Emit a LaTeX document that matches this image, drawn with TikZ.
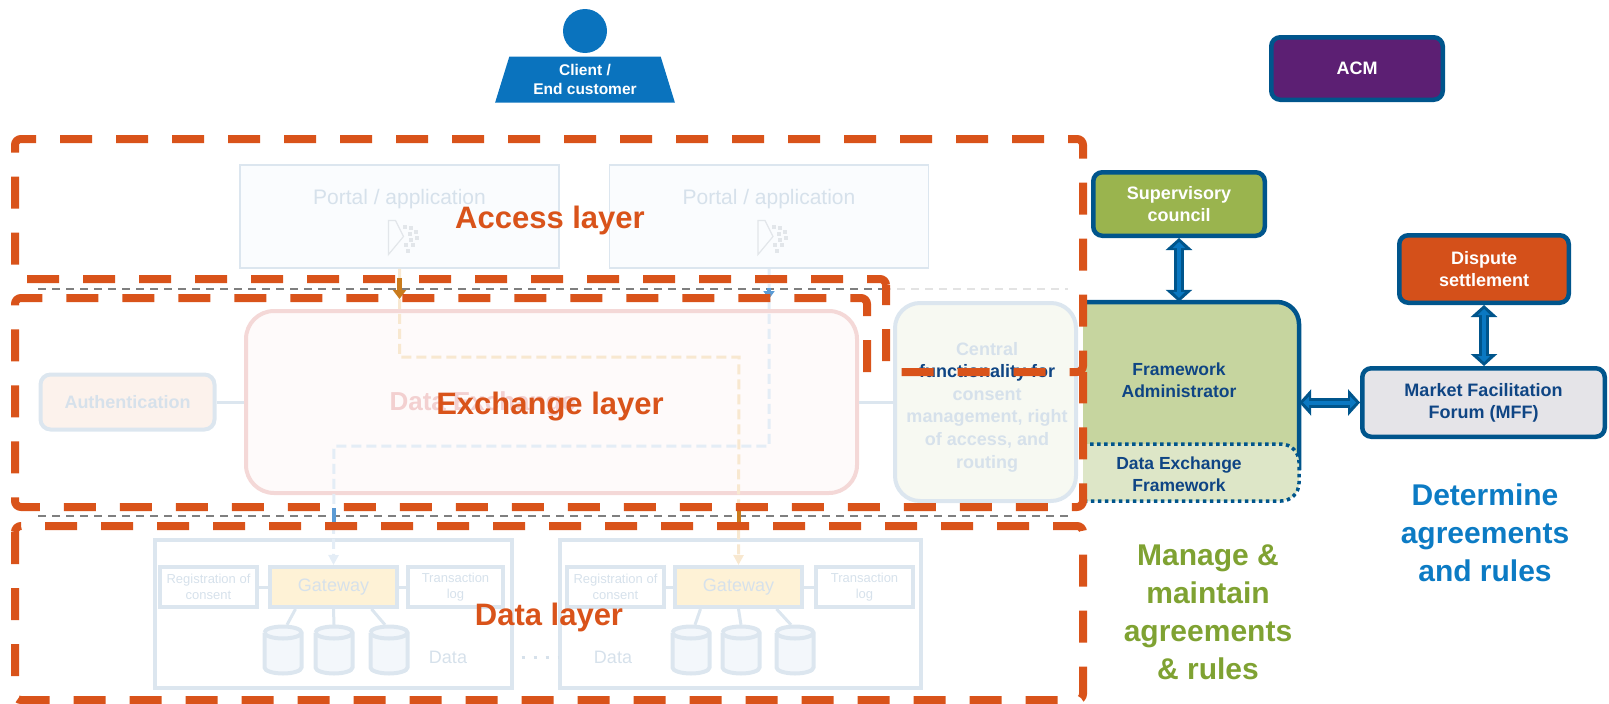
\documentclass[tikz,border=0pt]{standalone}
\usepackage{fontspec}
\setmainfont{Liberation Sans}
\usetikzlibrary{positioning,arrows.meta,calc,shapes.geometric}

\definecolor{layerorange}{HTML}{D9531A}
\definecolor{govblue}{HTML}{00558C}
\definecolor{arrowblue}{HTML}{0A78C2}
\definecolor{navytext}{HTML}{0F4584}
\definecolor{acmpurple}{HTML}{5C1F73}
\definecolor{supgreen}{HTML}{9AB44E}
\definecolor{disporange}{HTML}{D4501A}
\definecolor{fagreen}{HTML}{C6D59F}
\definecolor{defgreen}{HTML}{DDE6C7}
\definecolor{mffgrey}{HTML}{E5E4E8}
\definecolor{managegreen}{HTML}{7FA232}
\definecolor{determineblue}{HTML}{0C7BC4}
\definecolor{clientblue}{HTML}{0A73BE}
\definecolor{fadeline}{HTML}{DCE6EF}
\definecolor{fadetext}{HTML}{D6E1EB}
\definecolor{fadepink}{HTML}{F4D8D7}
\definecolor{fadepinktext}{HTML}{F3D0D0}
\definecolor{dxfill}{HTML}{FEFAFA}
\definecolor{authfill}{HTML}{FCF2EC}
\definecolor{centralfill}{HTML}{F7F9F2}
\definecolor{portalfill}{HTML}{FAFCFE}
\definecolor{cylfill}{HTML}{F3F7FB}
\definecolor{gatefill}{HTML}{FEF2D6}
\definecolor{routeorange}{HTML}{C97B1C}
\definecolor{routeblue}{HTML}{5B9BD5}
\definecolor{fadeorange}{HTML}{F8E8D0}
\definecolor{fadeblue}{HTML}{E4EDF6}
\definecolor{divgrey}{HTML}{7F7F7F}
\definecolor{divlight}{HTML}{E3E3E3}
\definecolor{icongrey}{HTML}{E2E6EA}

\begin{document}
\begin{tikzpicture}[x=1pt, y=-1pt,
	layer/.style={draw=layerorange, line width=8pt, dash pattern=on 32pt off 24pt, rounded corners=6pt},
	layerlabel/.style={text=layerorange, font=\bfseries\fontsize{31}{36}\selectfont},
	divider/.style={draw=divgrey, line width=2.5pt, dash pattern=on 8pt off 6pt},
	govbox/.style={draw=govblue, line width=4.5pt, rounded corners=9pt, align=center,
		text=white, inner sep=0pt, font=\bfseries\fontsize{18}{22}\selectfont},
	govtext/.style={align=center, text=navytext, font=\bfseries\fontsize{17.5}{21.5}\selectfont},
	dblout/.style={draw=govblue, line width=10pt,
		{Triangle[length=12pt,width=26pt]}-{Triangle[length=12pt,width=26pt]}},
	dblin/.style={draw=arrowblue, line width=4pt, shorten <=4pt, shorten >=4pt,
		{Triangle[length=6pt,width=12pt]}-{Triangle[length=6pt,width=12pt]}},
	bigtext/.style={align=center, font=\bfseries\fontsize{30}{38}\selectfont},
	portal/.style={draw=fadeline, line width=1.5pt, fill=portalfill,
		minimum width=319pt, minimum height=103pt, inner sep=0pt},
	fadebox/.style={draw=fadeline, line width=4pt, inner sep=0pt},
	fadetxt/.style={text=fadetext, align=center},
	fadeconn/.style={draw=fadeline, line width=3pt},
	cylspot/.style={minimum width=41pt, minimum height=50pt, inner sep=0pt},
	route/.style={line width=3pt, dash pattern=on 10pt off 5pt, -{Triangle[length=10pt,width=10pt]}}
]
\useasboundingbox (0,0) rectangle (1609,704);

% faded access layer
\node[portal] (pt1) at (399.5,216.5) {};
\node[portal] (pt2) at (769,216.5) {};
\node[fadetxt, font=\fontsize{21}{24}\selectfont] (pt1txt) at (399.5,199) {Portal / application};
\node[fadetxt, font=\fontsize{21}{24}\selectfont] (pt2txt) at (769,199) {Portal / application};
\foreach \p in {pt1,pt2}{
	\begin{scope}[shift={(\p.center)}]
		\draw[icongrey, line width=1.2pt] (-11,4) -- (-4,4) -- (4,20) -- (-11,38) -- cycle;
		\foreach \dx/\dy in {3/8,9/9,14/13,8/15,15/19,9/21,4/26,11/26,6/32}
			\fill[icongrey] (\dx,\dy) rectangle ++(4,4);
	\end{scope}
}

% faded exchange layer
\node[fadebox, fill=authfill, rounded corners=10pt, minimum width=174pt, minimum height=55pt] (auth) at (127.5,402) {};
\node[fadetxt, font=\bfseries\fontsize{18}{22}\selectfont] (authtxt) at (auth) {Authentication};
\node[fadebox, draw=fadepink, fill=dxfill, rounded corners=28pt, minimum width=611pt, minimum height=182pt] (dx) at (551.5,402) {};
\node[text=fadepinktext, font=\bfseries\fontsize{26}{30}\selectfont, anchor=west] (dxtxt) at (386,404) {Data Exchange};
\node[fadebox, fill=centralfill, rounded corners=25pt, minimum width=181pt, minimum height=198pt] (central) at (985.5,402) {};
\node[fadetxt, font=\bfseries\fontsize{18}{22.6}\selectfont] (centraltxt) at (987,407)
	{Central\\\textcolor{navytext}{functionality for}\\consent\\management, right\\of access, and\\routing};
\draw[fadeconn] (auth) -- (dx);
\draw[fadeconn] (dx) -- (central);

% faded data layer
\node[fadebox, minimum width=357pt, minimum height=148pt] (dc1) at (333,614) {};
\node[fadebox, minimum width=361pt, minimum height=148pt] (dc2) at (740.5,614) {};
\node[fadebox, minimum width=97pt, minimum height=40pt] (reg1) at (208.5,587) {};
\node[fadebox, fill=gatefill, minimum width=127pt, minimum height=40pt] (gw1) at (333.5,587) {};
\node[fadebox, minimum width=95pt, minimum height=40pt] (tl1) at (455.5,587) {};
\node[fadebox, minimum width=97pt, minimum height=40pt] (reg2) at (615.5,587) {};
\node[fadebox, fill=gatefill, minimum width=127pt, minimum height=40pt] (gw2) at (738.5,587) {};
\node[fadebox, minimum width=97pt, minimum height=40pt] (tl2) at (864.5,587) {};
\foreach \b in {reg1,reg2}
	\node[fadetxt, font=\fontsize{13}{16}\selectfont] at (\b) {Registration of\\consent};
\foreach \b in {tl1,tl2}
	\node[fadetxt, font=\fontsize{13}{16}\selectfont] at (\b) {Transaction\\log};
\foreach \b in {gw1,gw2}
	\node[fadetxt, font=\fontsize{18}{22}\selectfont] at (\b) {Gateway};
\draw[fadeconn] (reg1) -- (gw1);
\draw[fadeconn] (gw1) -- (tl1);
\draw[fadeconn] (reg2) -- (gw2);
\draw[fadeconn] (gw2) -- (tl2);
\node[cylspot] (cyl1a) at (283,650) {};
\node[cylspot] (cyl1b) at (334,650) {};
\node[cylspot] (cyl1c) at (389,650) {};
\node[cylspot] (cyl2a) at (691,650) {};
\node[cylspot] (cyl2b) at (741,650) {};
\node[cylspot] (cyl2c) at (795,650) {};
\foreach \c in {cyl1a,cyl1b,cyl1c,cyl2a,cyl2b,cyl2c}{
	\begin{scope}[shift={(\c.center)}]
		\filldraw[fill=cylfill, draw=fadeline, line width=4pt]
			(-18.5,-17.5) -- (-18.5,17.5) arc(180:0:18.5 and 6) -- (18.5,-17.5) arc(0:-180:18.5 and 6);
		\draw[fadeline, line width=4pt] (-18.5,-17.5) arc(180:0:18.5 and 6);
	\end{scope}
}
\draw[fadeconn] ($(gw1.south)+(-38,0)$) -- ($(cyl1a.north)+(4,0)$);
\draw[fadeconn] (gw1.south) -- (cyl1b.north);
\draw[fadeconn] ($(gw1.south)+(38,0)$) -- ($(cyl1c.north)+(-4,0)$);
\draw[fadeconn] ($(gw2.south)+(-38,0)$) -- ($(cyl2a.north)+(4,0)$);
\draw[fadeconn] (gw2.south) -- (cyl2b.north);
\draw[fadeconn] ($(gw2.south)+(38,0)$) -- ($(cyl2c.north)+(-4,0)$);
\node[fadetxt, font=\fontsize{18}{22}\selectfont] (data1) at (448,657) {Data};
\node[fadetxt, font=\fontsize{18}{22}\selectfont] (data2) at (613,657) {Data};
\draw[draw=fadetext, line width=3pt, dash pattern=on 3pt off 9pt] ([xshift=8pt]dc1.east |- data1) -- (dc2.west |- data1);

% routes
\coordinate (obend) at (739,357);
\coordinate (bbend) at (334,446);
\draw[route, draw=fadeorange] (pt1.south) |- (obend) -- (gw2.north);
\draw[route, draw=fadeblue] (pt2.south) |- (bbend) -- (gw1.north);

% dividers
\draw[divider] (38,289) -- (883,289);
\draw[divider, draw=divlight] (883,289) -- (1068,289);
\draw[divider] (38,516) -- (1068,516);

\draw[routeorange, line width=5pt, -{Triangle[length=9pt,width=13pt]}] (399.5,278) -- (399.5,299);
\draw[routeblue, line width=4pt, -{Triangle[length=8pt,width=11pt]}] (769,288) -- (769,299);
\draw[routeblue, line width=4pt] (334,508) -- (334,525);
\draw[routeorange, line width=4pt] (739,510) -- (739,523);

% framework administrator
\node[minimum width=216pt, minimum height=199pt, inner sep=0pt] (fa) at (1191,401.5) {};
\fill[fagreen] (1083,302) -- (1277,302) arc(-90:0:22) -- (1299,479) arc(0:90:22) -- (1083,501) -- cycle;
\draw[govblue, line width=4.5pt] (1083,302) -- (1277,302) arc(-90:0:22) -- (1299,470);
\filldraw[fill=defgreen, draw=govblue, line width=3.5pt, dash pattern=on 3.5pt off 3.5pt]
	(1083,444) -- (1281,444) arc(-90:0:18) -- (1299,483) arc(0:90:18) -- (1083,501);
\node[govtext] (fatxt) at (1179,380) {Framework\\Administrator};
\node[govtext] (deftxt) at (1179,474) {Data Exchange\\Framework};

% layers
\draw[layer, dash phase=12pt] (886,279) -- (886,372) -- (1083,372) -- (1083,139) -- (15,139) -- (15,279) -- cycle;
\draw[layer] (867,372) -- (867,298) -- (15,298) -- (15,507) -- (1083,507) -- (1083,372);
\draw[layer] (15,526) rectangle (1083,700);
\node[layerlabel] (accesslbl) at (550,220) {Access layer};
\node[layerlabel] (exchangelbl) at (550,407) {Exchange layer};
\node[layerlabel] (datalbl) at (549,617) {Data layer};

% client
\node[circle, fill=clientblue, minimum size=44pt, inner sep=0pt] (head) at (585,31) {};
\node[trapezium, trapezium left angle=72, trapezium right angle=72, trapezium stretches=true,
	fill=clientblue, minimum width=180pt, minimum height=46pt, inner sep=0pt,
	text=white, align=center, font=\bfseries\fontsize{15.5}{18.5}\selectfont] (client) at (585,79.5) {Client /\\End customer};

% governance
\node[govbox, fill=acmpurple, minimum width=171.5pt, minimum height=62.5pt] (acm) at (1357,68.5) {ACM};
\node[govbox, fill=supgreen, minimum width=171.5pt, minimum height=63.5pt] (sc) at (1179,204) {Supervisory\\council};
\node[govbox, fill=disporange, minimum width=169.5pt, minimum height=67.5pt] (disp) at (1484,269) {Dispute\\settlement};
\node[govbox, fill=mffgrey, text=navytext, minimum width=242.5pt, minimum height=68.5pt] (mff) at (1483.5,402.5) {Market Facilitation\\Forum (MFF)};

\draw[dblout] (sc.south) -- (sc.south |- fa.north);
\draw[dblin] (sc.south) -- (sc.south |- fa.north);
\draw[dblout] (fa.east |- mff.west) -- (mff.west);
\draw[dblin] (fa.east |- mff.west) -- (mff.west);
\draw[dblout] (disp.south) -- (disp.south |- mff.north);
\draw[dblin] (disp.south) -- (disp.south |- mff.north);

\node[bigtext, text=managegreen] (managetxt) at (1208,612) {Manage \&\\maintain\\agreements\\\& rules};
\node[bigtext, text=determineblue] (determinetxt) at (1485,533) {Determine\\agreements\\and rules};
\end{tikzpicture}
\end{document}
